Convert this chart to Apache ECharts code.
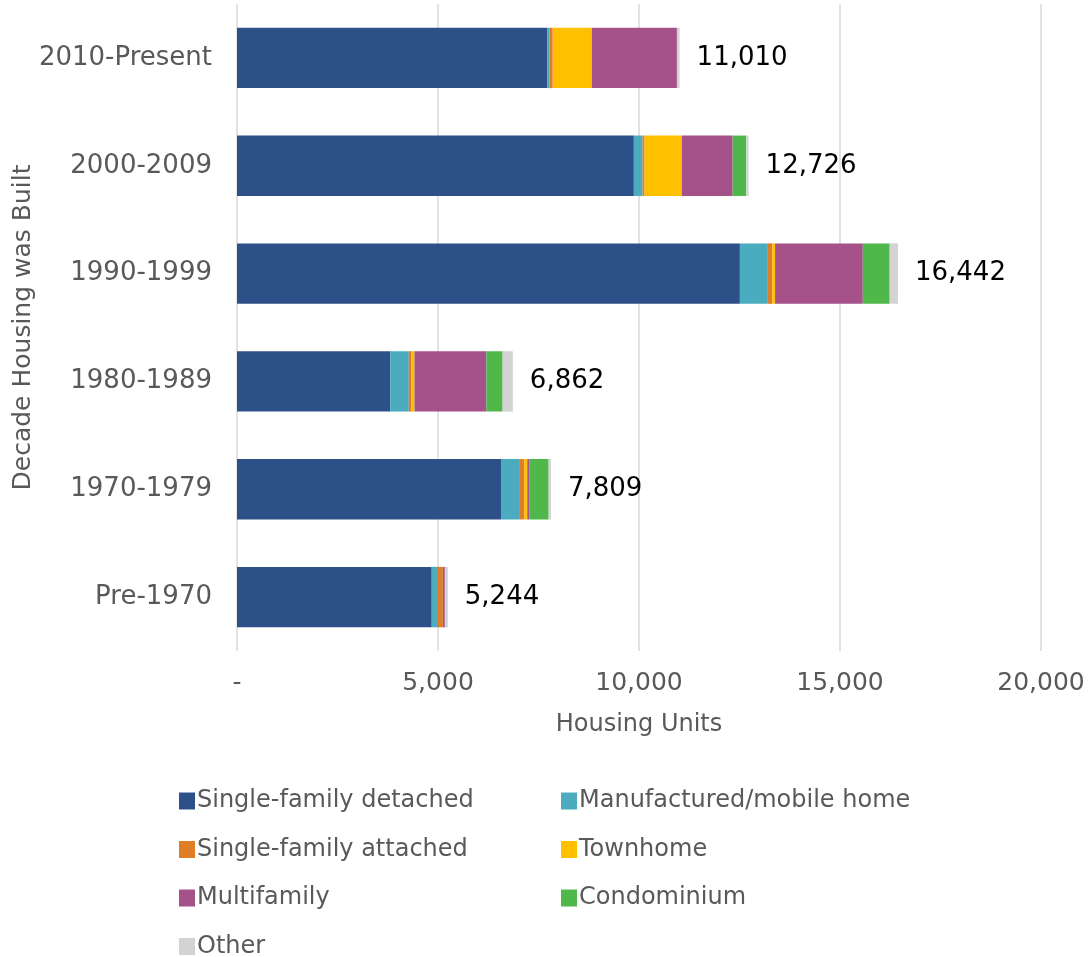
<!DOCTYPE html>
<html>
<head>
<meta charset="utf-8">
<script src="https://cdn.jsdelivr.net/npm/echarts@6/dist/echarts.min.js"></script>
<style>
  html, body { margin: 0; padding: 0; background: #fff; }
  #chart { width: 1091px; height: 957px; }
</style>
</head>
<body>
<div id="chart"></div>
<script>
// decades, top to bottom
var decades = ['2010-Present', '2000-2009', '1990-1999', '1980-1989', '1970-1979', 'Pre-1970'];
var totals = [11010, 12726, 16442, 6862, 7809, 5244];

var sfDetached   = [7714, 9872, 12510, 3811, 6567, 4844];
var manufactured = [67, 216, 677, 463, 450, 130];
var sfAttached   = [74, 50, 131, 67, 130, 147];
var townhome     = [971, 926, 67, 74, 74, 0];
var multifamily  = [2117, 1265, 2182, 1789, 57, 49];
var condominium  = [0, 340, 669, 403, 474, 0];
var other        = [67, 57, 206, 255, 57, 74];

var xTicks = [0, 5000, 10000, 15000, 20000];

var font = 'DejaVu Sans';
var grey = '#595959';

var myChart = echarts.init(document.getElementById('chart'));

function mkSeries(name, data, color, isLast) {
    var s = {
        name: name,
        type: 'bar',
        stack: 'units',
        barCategoryGap: '44%',
        data: data,
        itemStyle: { color: color },
        emphasis: { disabled: true }
    };
    if (isLast) {
        s.label = {
            show: true,
            position: 'right',
            distance: 17,
            fontFamily: font,
            fontSize: 26,
            color: '#000',
            formatter: function (p) {
                return totals[p.dataIndex].toLocaleString('en-US');
            }
        };
    }
    return s;
}

// legend items laid out in two columns, one legend each
var legendItems = [
    ['Single-family detached', 0, 0],
    ['Manufactured/mobile home', 1, 0],
    ['Single-family attached', 0, 1],
    ['Townhome', 1, 1],
    ['Multifamily', 0, 2],
    ['Condominium', 1, 2],
    ['Other', 0, 3]
];
var legends = legendItems.map(function (it) {
    return {
        left: it[1] === 0 ? 174 : 556,
        top: 784 + it[2] * 48.5,
        itemWidth: 16,
        itemHeight: 17,
        itemGap: 5,
        icon: 'rect',
        textStyle: { color: grey, fontSize: 24, fontFamily: font, padding: [0, 0, 0, -3] },
        data: [it[0]]
    };
});

var option = {
    animation: false,
    textStyle: { fontFamily: font },
    grid: { left: 237, right: 50, top: 4, bottom: 306, outerBoundsMode: 'none' },
    xAxis: {
        type: 'value',
        min: xTicks[0],
        max: xTicks[xTicks.length - 1],
        interval: 5000,
        axisLine: { show: false },
        axisTick: { show: false },
        splitLine: { show: true, lineStyle: { color: '#d9d9d9', width: 1.5 } },
        axisLabel: {
            color: grey,
            fontSize: 25,
            margin: 20,
            formatter: function (v) { return v === 0 ? '-' : v.toLocaleString('en-US'); }
        },
        name: 'Housing Units',
        nameLocation: 'middle',
        nameGap: 62,
        nameMoveOverlap: false,
        nameTextStyle: { color: grey, fontSize: 24 }
    },
    yAxis: {
        type: 'category',
        data: decades,
        inverse: true,
        axisLine: { show: false },
        axisTick: { show: false },
        axisLabel: { color: grey, fontSize: 26, margin: 25 },
        name: 'Decade Housing was Built',
        nameLocation: 'middle',
        nameGap: 201,
        nameMoveOverlap: false,
        nameTextStyle: { color: grey, fontSize: 25 }
    },
    legend: legends,
    series: [
        mkSeries('Single-family detached', sfDetached, '#2E5089'),
        mkSeries('Manufactured/mobile home', manufactured, '#4BACC0'),
        mkSeries('Single-family attached', sfAttached, '#E07E28'),
        mkSeries('Townhome', townhome, '#FFC000'),
        mkSeries('Multifamily', multifamily, '#A5518A'),
        mkSeries('Condominium', condominium, '#50B84A'),
        mkSeries('Other', other, '#D3D3D3', true)
    ]
};

myChart.setOption(option);
</script>
</body>
</html>
